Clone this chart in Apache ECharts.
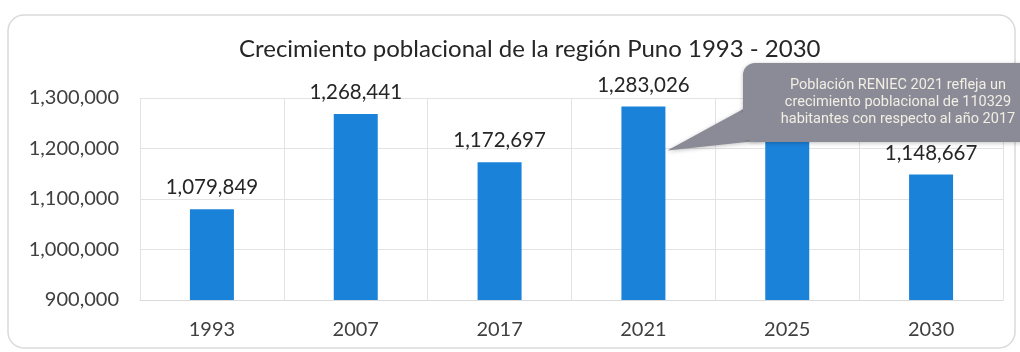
<!DOCTYPE html>
<html>
<head>
<meta charset="utf-8">
<script src="https://cdn.jsdelivr.net/npm/echarts@6/dist/echarts.min.js"></script>
<style>
  html, body { margin: 0; padding: 0; background: #ffffff; }
  #chart { width: 1020px; height: 352px; }
</style>
</head>
<body>
<div id="chart"></div>
<script>
// Población de la región Puno por año
const years = ['1993', '2007', '2017', '2021', '2025', '2030'];
const population = [1079849, 1268441, 1172697, 1283026, 1236000, 1148667];
const yTicks = { min: 900000, max: 1300000, step: 100000 };
const titleText = 'Crecimiento poblacional de la región Puno 1993 - 2030';
const noteLines = [
  'Población RENIEC 2021 refleja un',
  'crecimiento poblacional de 110329',
  'habitantes con respecto al año 2017'
];
const noteYear = '2021';
const noteValue = 1200000;

const fmt = v => v.toLocaleString('en-US');
const FONT = 'Lato, "Open Sans", sans-serif';
const chart = echarts.init(document.getElementById('chart'), null, { renderer: 'canvas' });

chart.setOption({
  backgroundColor: '#ffffff',
  animation: false,
  title: {
    text: titleText,
    left: 234,
    top: 32,
    textStyle: { fontFamily: FONT, fontSize: 24, fontWeight: 'normal', color: '#262626' }
  },
  grid: { left: 140, right: 17, top: 98, bottom: 52, containLabel: false },
  xAxis: {
    type: 'category',
    data: years,
    axisLine: { lineStyle: { color: '#d9d9d9' } },
    axisTick: { show: false },
    axisLabel: { fontFamily: FONT, fontSize: 20, color: '#404040', margin: 20 },
    splitLine: { show: true, lineStyle: { color: '#e3e3e3' } }
  },
  yAxis: {
    type: 'value',
    min: yTicks.min,
    max: yTicks.max,
    interval: yTicks.step,
    axisLine: { show: false },
    axisTick: { show: false },
    axisLabel: { fontFamily: FONT, fontSize: 20, color: '#404040', margin: 21, formatter: fmt },
    splitLine: { lineStyle: { color: '#e3e3e3' } }
  },
  series: [{
    type: 'bar',
    data: population,
    barWidth: 44,
    itemStyle: { color: '#1b82da' },
    label: {
      show: true,
      position: 'top',
      distance: 11,
      fontFamily: FONT,
      fontSize: 20.5,
      color: '#262626',
      formatter: p => fmt(p.value)
    }
  }]
});

// Frame and callout note pointing at the 2021 bar
function drawOverlay() {
  const tip = chart.convertToPixel({ xAxisIndex: 0, yAxisIndex: 0 }, [noteYear, noteValue]);
  const tipX = tip[0] + 24, tipY = tip[1] + 2;
  const bx = 743, by = 63, bw = 300, bh = 79;
  const fill = '#8b8b97';
  const shadow = { shadowBlur: 4, shadowColor: 'rgba(0,0,0,0.25)', shadowOffsetY: 1 };
  chart.setOption({
    graphic: [
      {
        type: 'rect', silent: true, z: -1,
        shape: { x: 8, y: 15, width: 1007, height: 333, r: 16 },
        style: { fill: 'none', stroke: '#dadada', lineWidth: 1.5 }
      },
      {
        type: 'polygon', zlevel: 1, z: 1,
        shape: { points: [[bx + 4, by + 44], [tipX, tipY], [bx + 22, by + 77]] },
        style: Object.assign({ fill }, shadow)
      },
      {
        type: 'rect', zlevel: 1, z: 2,
        shape: { x: bx, y: by, width: bw, height: bh, r: 12 },
        style: Object.assign({ fill }, shadow)
      },
      {
        type: 'polygon', zlevel: 1, z: 3,
        shape: { points: [[bx + 6, by + 46], [tipX + 2, tipY - 1], [bx + 20, by + 75]] },
        style: { fill }
      },
      {
        type: 'text', zlevel: 1, z: 4,
        style: {
          x: 898, y: 102,
          text: noteLines.join('\n'),
          align: 'center', verticalAlign: 'middle',
          lineHeight: 17,
          font: '14.5px Roboto, sans-serif',
          fill: '#f2eee4'
        }
      }
    ]
  });
}
drawOverlay();
</script>
</body>
</html>
